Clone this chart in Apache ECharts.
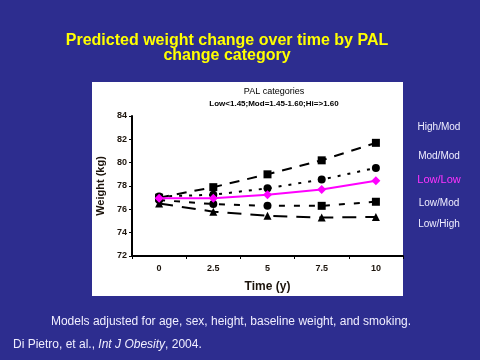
<!DOCTYPE html>
<html><head><meta charset="utf-8">
<script src="https://cdn.jsdelivr.net/npm/echarts@6/dist/echarts.min.js"></script>
<style>html,body{margin:0;padding:0;background:#2D2D8F;}#c{width:480px;height:360px;}</style>
</head><body><div id="c"></div>
<script>
const times = ['0', '2.5', '5', '7.5', '10'];
const highMod = [77.0, 77.9, 79.0, 80.2, 81.7];
const modMod = [77.1, 77.25, 77.8, 78.55, 79.55];
const lowLow = [76.95, 76.95, 77.25, 77.7, 78.45];
const lowMod = [76.8, 76.45, 76.3, 76.3, 76.65];
const lowHigh = [76.5, 75.8, 75.45, 75.3, 75.35];
const yTicks = {min: 72, max: 84, interval: 2};
const seriesNames = ['High/Mod', 'Mod/Mod', 'Low/Low', 'Low/Mod', 'Low/High'];

const chart = echarts.init(document.getElementById('c'), null, {renderer: 'canvas'});
const font = 'Liberation Sans, Arial, sans-serif';
const dark = '#1c140c';
function ser(name, data, opts) {
  return Object.assign({name, type: 'line', data, symbolSize: 8, z: 5,
    itemStyle: {color: '#000'}, lineStyle: {color: '#000', width: 2}}, opts);
}
chart.setOption({
  backgroundColor: '#2D2D8F',
  animation: false,
  grid: {left: 132, top: 116, width: 271, height: 140},
  xAxis: {type: 'category', data: times, boundaryGap: true,
    name: 'Time (y)', nameLocation: 'middle', nameGap: 25,
    nameTextStyle: {color: dark, fontSize: 12, fontWeight: 'bold', fontFamily: font},
    axisLine: {lineStyle: {color: '#000', width: 2}},
    axisTick: {show: true, length: 3, lineStyle: {color: '#000', width: 1}},
    axisLabel: {color: dark, fontSize: 9, fontWeight: 'bold', fontFamily: font, margin: 8}},
  yAxis: {type: 'value', min: yTicks.min, max: yTicks.max, interval: yTicks.interval,
    name: 'Weight (kg)', nameLocation: 'middle', nameGap: 23,
    nameTextStyle: {color: dark, fontSize: 11, fontWeight: 'bold', fontFamily: font},
    splitLine: {show: false},
    axisLine: {show: true, lineStyle: {color: '#000', width: 2}},
    axisTick: {show: true, length: 3, lineStyle: {color: '#000', width: 1}},
    axisLabel: {color: dark, fontSize: 9, fontWeight: 'bold', fontFamily: font, margin: 5}},
  series: [
    ser(seriesNames[0], highMod, {symbol: 'rect', lineStyle: {color: '#000', width: 2, type: [10, 8]}}),
    ser(seriesNames[1], modMod, {symbol: 'circle', lineStyle: {color: '#000', width: 2, type: [3, 7]}}),
    ser(seriesNames[3], lowMod, {symbol: (v, p) => p.dataIndex < 3 ? 'circle' : 'rect', lineStyle: {color: '#000', width: 2, type: [6, 9]}}),
    ser(seriesNames[4], lowHigh, {symbol: 'triangle', lineStyle: {color: '#000', width: 2, type: [14, 9]}}),
    ser(seriesNames[2], lowLow, {symbol: 'diamond', symbolSize: 9, z: 6, itemStyle: {color: '#FF00FF'}, lineStyle: {color: '#FF00FF', width: 2}})
  ],
  graphic: [
    {type: 'rect', z: -10, shape: {x: 92, y: 82, width: 311, height: 214}, style: {fill: '#fff'}},
    {type: 'text', x: 227, y: 41, style: {text: 'Predicted weight change over time by PAL', fill: '#FFFF00', font: 'bold 16px ' + font, align: 'center', verticalAlign: 'middle'}},
    {type: 'text', x: 227, y: 56, style: {text: 'change category', fill: '#FFFF00', font: 'bold 16px ' + font, align: 'center', verticalAlign: 'middle'}},
    {type: 'text', x: 274, y: 92, style: {text: 'PAL categories', fill: '#000', font: '9px ' + font, align: 'center', verticalAlign: 'middle'}},
    {type: 'text', x: 274, y: 104, style: {text: 'Low<1.45;Mod=1.45-1.60;Hi=>1.60', fill: '#000', font: 'bold 8px ' + font, align: 'center', verticalAlign: 'middle'}},
    {type: 'text', x: 439, y: 127, style: {text: seriesNames[0], fill: '#F0EEFF', font: '10px ' + font, align: 'center', verticalAlign: 'middle'}},
    {type: 'text', x: 439, y: 156, style: {text: seriesNames[1], fill: '#F0EEFF', font: '10px ' + font, align: 'center', verticalAlign: 'middle'}},
    {type: 'text', x: 439, y: 180, style: {text: seriesNames[2], fill: '#FF33FF', font: '11px ' + font, align: 'center', verticalAlign: 'middle'}},
    {type: 'text', x: 439, y: 203, style: {text: seriesNames[3], fill: '#F0EEFF', font: '10px ' + font, align: 'center', verticalAlign: 'middle'}},
    {type: 'text', x: 439, y: 224, style: {text: seriesNames[4], fill: '#F0EEFF', font: '10px ' + font, align: 'center', verticalAlign: 'middle'}},
    {type: 'text', x: 231, y: 322, style: {text: 'Models adjusted for age, sex, height, baseline weight, and smoking.', fill: '#F0EEFF', font: '12px ' + font, align: 'center', verticalAlign: 'middle'}},
    {type: 'text', x: 13, y: 345, style: {rich: {n: {fill: '#F0EEFF', font: '12px ' + font}, i: {fill: '#F0EEFF', font: 'italic 12px ' + font}}, text: '{n|Di Pietro, et al., }{i|Int J Obesity}{n|, 2004.}', verticalAlign: 'middle'}}
  ]
});
</script></body></html>
